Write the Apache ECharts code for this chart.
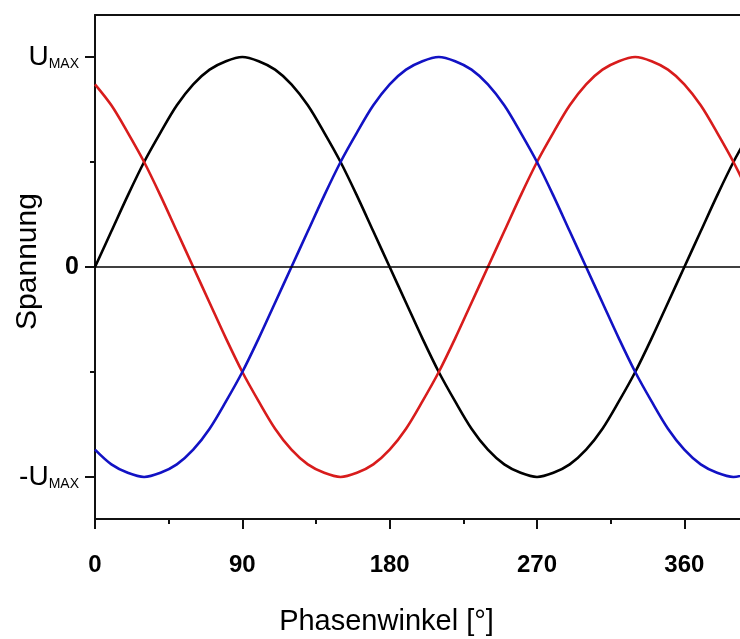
<!DOCTYPE html>
<html>
<head>
<meta charset="utf-8">
<script src="https://cdn.jsdelivr.net/npm/echarts@6/dist/echarts.min.js"></script>
<style>
  html, body { margin: 0; padding: 0; background: #fff; }
  #chart { width: 740px; height: 639px; }
</style>
</head>
<body>
<div id="chart"></div>
<script>
// Phasenwinkel in Grad (10°-Schritte), Spannung in Einheiten von U_MAX
var angles = [0, 10, 20, 30, 40, 50, 60, 70, 80, 90, 100, 110, 120, 130, 140, 150, 160, 170, 180, 190, 200, 210, 220, 230, 240, 250, 260, 270, 280, 290, 300, 310, 320, 330, 340, 350, 360, 370, 380, 390, 400];
var phaseBlack = [0, 0.17, 0.34, 0.5, 0.64, 0.77, 0.87, 0.94, 0.98, 1, 0.98, 0.94, 0.87, 0.77, 0.64, 0.5, 0.34, 0.17, 0, -0.17, -0.34, -0.5, -0.64, -0.77, -0.87, -0.94, -0.98, -1, -0.98, -0.94, -0.87, -0.77, -0.64, -0.5, -0.34, -0.17, 0, 0.17, 0.34, 0.5, 0.64];
var phaseBlue = [-0.87, -0.94, -0.98, -1, -0.98, -0.94, -0.87, -0.77, -0.64, -0.5, -0.34, -0.17, 0, 0.17, 0.34, 0.5, 0.64, 0.77, 0.87, 0.94, 0.98, 1, 0.98, 0.94, 0.87, 0.77, 0.64, 0.5, 0.34, 0.17, 0, -0.17, -0.34, -0.5, -0.64, -0.77, -0.87, -0.94, -0.98, -1, -0.98];
var phaseRed = [0.87, 0.77, 0.64, 0.5, 0.34, 0.17, 0, -0.17, -0.34, -0.5, -0.64, -0.77, -0.87, -0.94, -0.98, -1, -0.98, -0.94, -0.87, -0.77, -0.64, -0.5, -0.34, -0.17, 0, 0.17, 0.34, 0.5, 0.64, 0.77, 0.87, 0.94, 0.98, 1, 0.98, 0.94, 0.87, 0.77, 0.64, 0.5, 0.34];
var xMajorTicks = [0, 90, 180, 270, 360];
var xMinorTicks = [45, 135, 225, 315];
var yMajorTicks = [-1, 0, 1];
var yMinorTicks = [-0.5, 0.5];

var font = 'Liberation Sans, Arial, Helvetica, sans-serif';

function pairs(ys) {
  return angles.map(function (a, i) { return [a, ys[i]]; });
}

function curve(name, color, ys, extra) {
  var s = {
    name: name,
    type: 'line',
    smooth: 0.33,
    showSymbol: false,
    lineStyle: { color: color, width: 2.6 },
    itemStyle: { color: color },
    data: pairs(ys)
  };
  return Object.assign(s, extra || {});
}

var chart = echarts.init(document.getElementById('chart'));
var axisColor = '#111';

chart.setOption({
  animation: false,
  backgroundColor: '#fff',
  grid: { left: 95, right: 0, top: 15, bottom: 120, containLabel: false, outerBoundsMode: 'none' },
  xAxis: [{
    type: 'value', min: 0, max: 394, position: 'bottom',
    name: 'Phasenwinkel [°]', nameLocation: 'middle', nameGap: 88, nameMoveOverlap: false,
    nameTextStyle: { fontFamily: font, fontSize: 29, color: '#000', padding: [0, 62, 0, 0] },
    axisLine: { onZero: false, lineStyle: { color: axisColor, width: 2 } },
    axisTick: { customValues: xMajorTicks, length: 10, lineStyle: { color: axisColor, width: 2 } },
    axisLabel: { customValues: xMajorTicks, margin: 34, fontFamily: font, fontSize: 24, fontWeight: 'bold', color: '#000' },
    splitLine: { show: false }
  }, {
    // kurze Zwischenstriche
    type: 'value', min: 0, max: 394, position: 'bottom',
    axisLine: { show: false, onZero: false },
    axisTick: { customValues: xMinorTicks, length: 5, lineStyle: { color: axisColor, width: 2 } },
    axisLabel: { show: false },
    splitLine: { show: false }
  }, {
    // oberer Rahmen
    type: 'value', min: 0, max: 394, position: 'top',
    axisLine: { onZero: false, lineStyle: { color: axisColor, width: 2 } },
    axisTick: { show: false },
    axisLabel: { show: false },
    splitLine: { show: false }
  }],
  yAxis: [{
    type: 'value', min: -1.2, max: 1.2, position: 'left',
    name: 'Spannung', nameLocation: 'middle', nameGap: 52, nameMoveOverlap: false,
    nameTextStyle: { fontFamily: font, fontSize: 30, color: '#000', padding: [0, 0, 0, 11] },
    axisLine: { onZero: false, lineStyle: { color: axisColor, width: 2 } },
    axisTick: { customValues: yMajorTicks, length: 10, lineStyle: { color: axisColor, width: 2 } },
    axisLabel: {
      customValues: yMajorTicks,
      margin: 16,
      formatter: function (v) {
        if (v === 1) return '{u|U}{s|MAX}';
        if (v === -1) return '{u|-U}{s|MAX}';
        return '{z|0}';
      },
      rich: {
        u: { fontFamily: font, fontSize: 28, color: '#000' },
        s: { fontFamily: font, fontSize: 14, color: '#000', lineHeight: 8, verticalAlign: 'bottom' },
        z: { fontFamily: font, fontSize: 25, fontWeight: 'bold', color: '#000' }
      }
    },
    splitLine: { show: false }
  }, {
    type: 'value', min: -1.2, max: 1.2, position: 'left',
    axisLine: { show: false, onZero: false },
    axisTick: { customValues: yMinorTicks, length: 5, lineStyle: { color: axisColor, width: 2 } },
    axisLabel: { show: false },
    splitLine: { show: false }
  }],
  series: [
    curve('L1', '#000000', phaseBlack, {
      markLine: {
        silent: true,
        symbol: 'none',
        label: { show: false },
        lineStyle: { color: '#000', width: 1.5, type: 'solid' },
        data: [{ yAxis: 0 }]
      }
    }),
    curve('L3', '#d81c1c', phaseRed),
    curve('L2', '#1212c4', phaseBlue)
  ]
});
</script>
</body>
</html>
